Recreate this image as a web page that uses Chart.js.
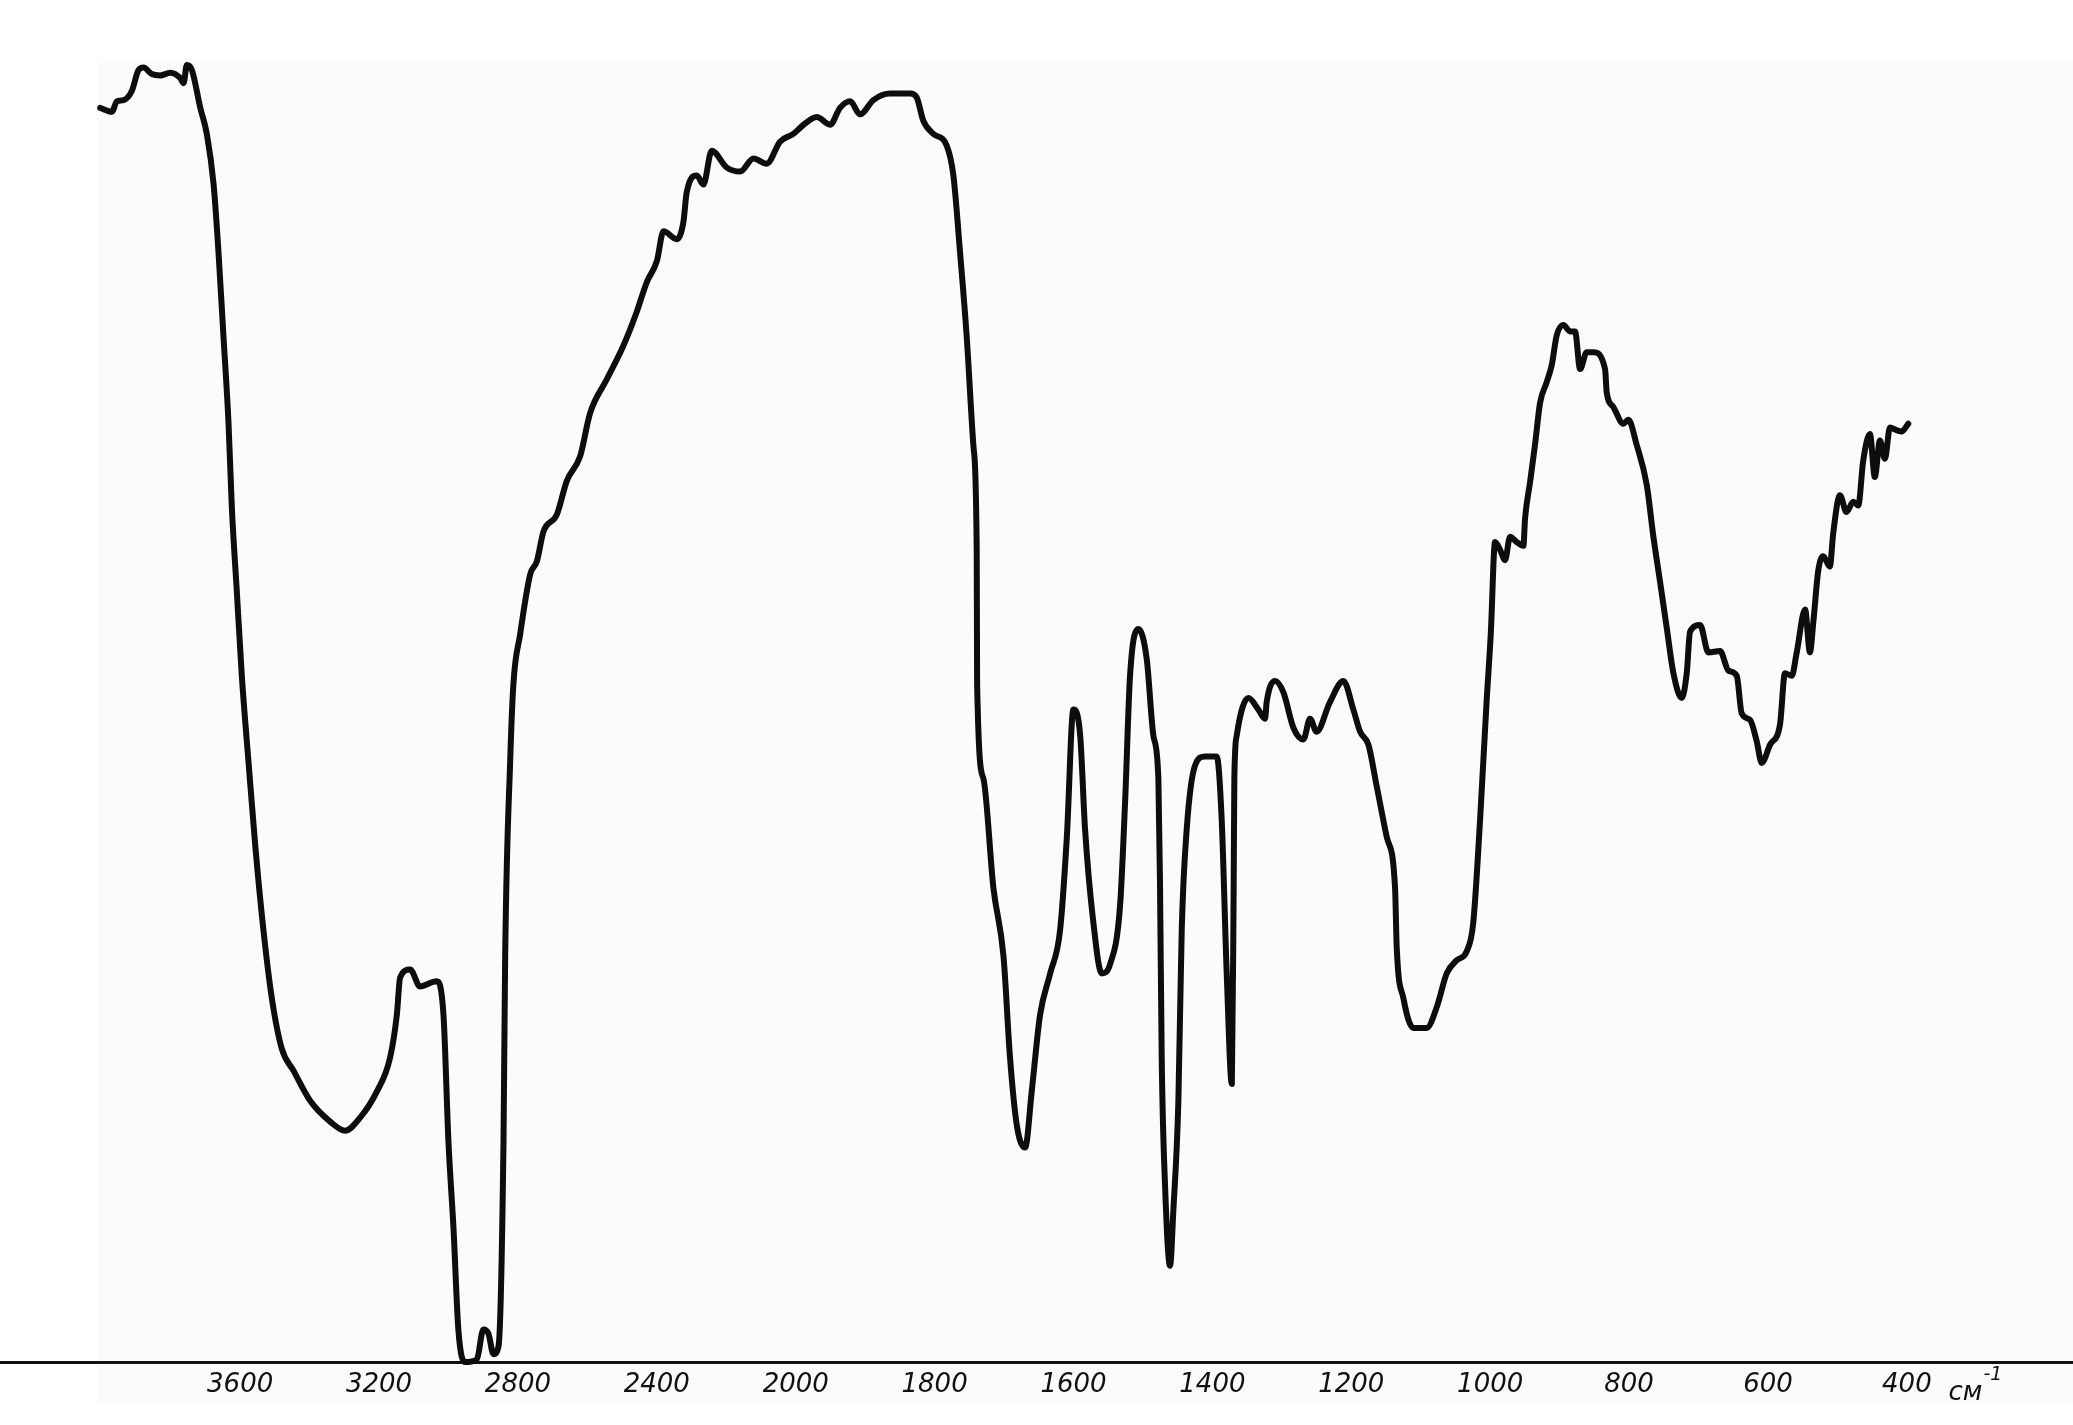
<!DOCTYPE html>
<html>
<head>
    <meta charset="UTF-8">
    <title>ИК-спектр</title>
    <script src="https://cdn.jsdelivr.net/npm/chart.js"></script>
    <style>
        html, body { margin: 0; padding: 0; background: #ffffff; }
        canvas { display: block; }
    </style>
</head>
<body>
    <canvas id="spectrum" width="2073" height="1425"></canvas>

    <script>
        // подписи шкалы волновых чисел (рукописные, шаг шкалы неравномерный)
        const tickLabels = ["3600", "3200", "2800", "2400", "2000", "1800", "1600",
                            "1400", "1200", "1000", "800", "600", "400"];
        const unitLabel = "см";
        const unitPower = "-1";

        // положение точки вдоль шкалы (в делениях между подписями, 0 = 3600, 12 = 400)
        const position = [
            -1.008, -0.923, -0.888, -0.839, -0.780, -0.732, -0.696, -0.636, -0.576, -0.503, -0.432, -0.407, -0.384, -0.347, -0.287,
            -0.240, -0.191, -0.156, -0.120, -0.084, -0.060, -0.024, 0.012, 0.060, 0.109, 0.168, 0.228, 0.300, 0.385, 0.504, 0.648, 0.756, 0.864, 0.984, 1.079, 1.128, 1.152, 1.224, 1.295, 1.415, 1.464, 1.500,
            1.536, 1.571, 1.620, 1.704, 1.751, 1.787, 1.824, 1.860, 1.896, 1.908, 1.944, 1.967, 2.016, 2.088, 2.136, 2.184, 2.280, 2.352, 2.448, 2.519, 2.639, 2.759, 2.855, 2.928, 3.000, 3.048, 3.144, 3.191, 3.215, 3.288, 3.335, 3.395, 3.504, 3.600, 3.696, 3.791, 3.887, 3.983, 4.056, 4.152, 4.247, 4.319, 4.392, 4.463, 4.559, 4.679, 4.823, 4.871,
            4.919, 4.991, 5.087, 5.135, 5.183, 5.231, 5.280, 5.303, 5.306, 5.351, 5.423, 5.496, 5.543, 5.592, 5.652, 5.699, 5.759, 5.832, 5.903, 5.952, 5.999, 6.048, 6.083, 6.143, 6.203, 6.263, 6.335, 6.371, 6.407, 6.467, 6.527, 6.575, 6.611, 6.623, 6.635, 6.659, 6.695, 6.719, 6.755, 6.779, 6.815, 6.875, 6.947, 7.031, 7.067, 7.103, 7.140, 7.153, 7.158, 7.175,
            7.260, 7.331, 7.379, 7.391, 7.451, 7.512, 7.583, 7.655, 7.703, 7.750, 7.847, 7.943, 8.015, 8.063, 8.123, 8.183, 8.255, 8.315, 8.327, 8.375, 8.447, 8.542, 8.615, 8.687, 8.758, 8.831, 8.878, 8.927, 8.974, 9.004,
            9.035, 9.071, 9.107, 9.143, 9.190, 9.239, 9.251, 9.287, 9.323, 9.359, 9.407, 9.443, 9.479, 9.527, 9.575, 9.611, 9.647, 9.695, 9.743, 9.827, 9.839, 9.886, 9.958, 9.995, 10.054, 10.127, 10.175, 10.222, 10.271, 10.319, 10.379, 10.415, 10.439, 10.511, 10.571, 10.655, 10.715, 10.775, 10.811, 10.871, 10.918, 10.955, 11.015, 11.087, 11.122, 11.171, 11.207, 11.267, 11.302, 11.327, 11.362, 11.398, 11.445, 11.470, 11.518, 11.565, 11.614, 11.650, 11.685, 11.734, 11.769, 11.806, 11.842, 11.878, 11.926, 11.962, 12.010
        ];

        // пропускание, %
        const transmittance = [
            96.5, 96.2, 97.0, 97.1, 97.8, 99.4, 99.6, 99.1, 99.0, 99.2, 98.8, 98.4, 99.8, 99.4, 96.5,
            94.5, 90.6, 85.4, 78.9, 72.3, 65.8, 59.3, 52.8, 46.2, 39.7, 33.2, 28.0, 24.1, 22.4, 20.1, 18.5, 17.8, 18.8, 20.8, 23.4, 26.7, 29.6, 30.2, 28.9, 29.3, 26.7, 16.9,
            10.3, 2.5, 0.0, 0.2, 2.5, 2.2, 0.6, 1.2, 16.9, 31.2, 46.2, 52.1, 56.0, 60.6, 61.6, 63.9, 65.2, 67.8, 69.7, 73.0, 75.6, 78.2, 80.8, 83.1, 84.7, 87.0, 86.4, 87.7, 90.0, 91.3, 90.6, 93.2, 91.9, 91.6, 92.6, 92.2, 93.9, 94.5, 95.2, 95.8, 95.2, 96.5, 97.0, 96.0, 97.1, 97.6, 97.6, 97.3,
            95.5, 94.5, 93.6, 91.3, 85.4, 78.9, 70.4, 62.5, 52.1, 44.9, 36.5, 31.2, 23.4, 18.2, 16.5, 20.8, 26.7, 29.9, 33.2, 40.4, 50.2, 48.2, 41.0, 33.8, 29.9, 30.6, 35.1, 43.0, 52.8, 56.4, 54.1, 48.2, 44.9, 36.5, 23.4, 13.6, 7.4, 11.7, 20.1, 33.2, 41.0, 45.9, 46.6, 46.6, 41.7, 29.9, 21.4, 36.5, 44.9, 48.2,
            51.1, 50.2, 49.5, 50.8, 52.4, 51.5, 48.8, 47.9, 49.5, 48.5, 50.8, 52.4, 50.2, 48.5, 47.5, 44.3, 40.4, 36.5, 31.9, 28.0, 25.7, 25.7, 27.3, 29.9, 30.9, 31.6, 33.8, 41.7, 50.8, 56.0,
            63.1, 62.5, 61.7, 63.5, 63.1, 62.8, 64.9, 67.7, 70.6, 73.8, 75.4, 76.7, 79.0, 79.8, 79.3, 79.3, 76.4, 77.7, 77.7, 76.4, 74.6, 73.5, 72.2, 72.5, 70.6, 67.5, 63.5, 60.1, 56.5, 53.0, 51.1, 53.0, 56.2, 56.7, 54.6, 54.7, 53.2, 52.8, 49.9, 49.4, 47.8, 46.1, 47.5, 49.1, 53.0, 52.8, 54.6, 57.9, 54.6, 57.0, 60.9, 62.0, 61.2, 63.8, 66.7, 65.4, 66.2, 65.9, 69.3, 71.4, 68.1, 70.9, 69.5, 71.9, 71.7, 71.6, 72.2
        ];

        const points = position.map((x, i) => ({ x: x, y: transmittance[i] }));
        const labelFont = { family: "'DejaVu Sans', sans-serif", size: 26, style: "italic" };

        // бледный фон бланка и подпись единиц
        const paperPlugin = {
            id: "paper",
            beforeDraw(chart) {
                const { ctx, chartArea, scales } = chart;
                const left = scales.x.getPixelForValue(position[0]) - 2;
                const top = scales.y.getPixelForValue(100);
                ctx.save();
                ctx.fillStyle = "#fbfbfb";
                ctx.fillRect(left, top, chart.width - left, chartArea.bottom + 40 - top);
                ctx.restore();
            },
            afterDraw(chart) {
                const { ctx, chartArea, scales } = chart;
                const x = scales.x.getPixelForValue(tickLabels.length - 0.7);
                ctx.save();
                ctx.fillStyle = "#111";
                ctx.textBaseline = "alphabetic";
                ctx.font = "italic 26px 'DejaVu Sans', sans-serif";
                ctx.fillText(unitLabel, x, chartArea.bottom + 38);
                const w = ctx.measureText(unitLabel).width;
                ctx.font = "italic 19px 'DejaVu Sans', sans-serif";
                ctx.fillText(unitPower, x + w + 1, chartArea.bottom + 18);
                ctx.restore();
            }
        };

        new Chart(document.getElementById("spectrum"), {
            type: "line",
            data: {
                datasets: [{
                    data: points,
                    borderColor: "#0d0d0d",
                    borderWidth: 6,
                    borderJoinStyle: "round",
                    borderCapStyle: "round",
                    pointRadius: 0,
                    cubicInterpolationMode: "monotone",
                    fill: false,
                    clip: false
                }]
            },
            options: {
                responsive: false,
                animation: false,
                layout: { padding: 0 },
                plugins: {
                    legend: { display: false },
                    tooltip: { enabled: false }
                },
                scales: {
                    x: {
                        type: "linear",
                        min: -1.729,
                        max: 13.196,
                        grid: { display: false, drawTicks: false },
                        border: { display: true, color: "#111", width: 3 },
                        ticks: {
                            color: "#111",
                            font: labelFont,
                            padding: 8,
                            maxRotation: 0,
                            autoSkip: false,
                            callback: function (value) {
                                return tickLabels[value];
                            }
                        },
                        afterBuildTicks: function (scale) {
                            scale.ticks = tickLabels.map((_, i) => ({ value: i }));
                        },
                        afterFit: function (scale) {
                            scale.height = 63;
                        }
                    },
                    y: {
                        display: false,
                        min: 0,
                        max: 104.8
                    }
                }
            },
            plugins: [paperPlugin]
        });
    </script>
</body>
</html>
